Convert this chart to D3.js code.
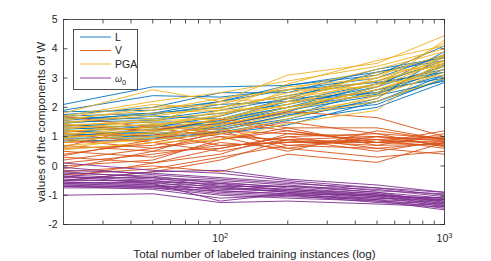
<!DOCTYPE html>
<html><head><meta charset="utf-8">
<script src="https://cdn.jsdelivr.net/npm/d3@7"></script>
<style>body{margin:0;background:#fff}svg{display:block;font-family:"Liberation Sans",Arial,sans-serif}</style>
</head><body><svg id="c" width="491" height="261"></svg>
<script>
const xValues = [20, 50, 100, 200, 500, 1000];
const seriesNames = ["L", "V", "PGA", "ω0"];
const seriesColors = ["#0072BD", "#D95319", "#EDB120", "#7E2F8E"];
const yTicks = [-2, -1, 0, 1, 2, 3, 4, 5];
const xMajorTicks = [100, 1000];
const xMinorTicks = [30, 40, 50, 60, 70, 80, 90, 200, 300, 400, 500, 600, 700, 800, 900];

const seriesL = [
 [2.10, 2.70, 2.70, 2.75, 3.20, 3.60],
 [1.90, 2.40, 2.35, 2.60, 3.00, 3.80],
 [1.85, 1.90, 2.20, 2.75, 3.10, 4.10],
 [1.70, 1.80, 2.00, 2.40, 2.90, 3.50],
 [1.65, 1.60, 1.90, 2.30, 3.20, 3.70],
 [1.60, 1.75, 2.10, 2.20, 2.80, 3.30],
 [1.50, 1.55, 1.80, 2.10, 2.70, 3.40],
 [1.45, 1.70, 1.60, 2.00, 2.60, 3.00],
 [1.40, 1.30, 1.70, 2.30, 2.50, 3.10],
 [1.35, 1.50, 1.50, 1.90, 2.40, 2.90],
 [1.30, 1.20, 1.55, 2.00, 2.80, 3.60],
 [1.25, 1.40, 1.40, 1.80, 2.20, 2.95],
 [1.20, 1.10, 1.30, 1.70, 2.60, 3.20],
 [1.15, 1.35, 1.25, 1.60, 2.30, 3.80],
 [1.10, 1.00, 1.20, 1.75, 2.10, 3.00],
 [1.00, 1.25, 1.45, 2.00, 2.45, 3.30],
 [0.95, 0.95, 1.15, 1.55, 2.00, 2.85],
 [0.90, 1.05, 1.35, 1.85, 2.70, 3.90],
 [0.85, 0.90, 1.10, 1.40, 2.20, 3.10],
 [1.75, 2.00, 2.50, 2.50, 3.30, 3.70],
 [1.55, 1.80, 2.20, 2.60, 2.85, 3.20],
 [1.05, 1.15, 1.60, 2.20, 2.50, 3.45]
];
const seriesV = [
 [1.70, 1.30, 1.00, 0.90, 0.80, 0.70],
 [1.40, 1.20, 1.60, 1.30, 1.30, 0.90],
 [1.20, 1.00, 1.40, 1.85, 1.65, 1.00],
 [1.10, 0.80, 1.20, 1.10, 1.00, 0.85],
 [1.00, 1.10, 0.70, 0.80, 0.90, 0.75],
 [0.90, 0.60, 0.90, 1.20, 0.80, 0.95],
 [0.80, 0.90, 1.30, 0.70, 0.60, 0.80],
 [0.70, 0.50, 0.60, 1.00, 1.10, 0.65],
 [0.60, 0.70, 1.10, 0.85, 0.70, 1.10],
 [0.50, 0.30, 0.80, 0.60, 1.00, 0.70],
 [0.40, 0.80, 0.50, 0.90, 0.50, 0.85],
 [0.30, 0.10, 0.40, 1.10, 0.90, 0.60],
 [0.20, 0.60, 1.00, 0.50, 1.20, 0.90],
 [0.10, 0.40, 0.70, 0.80, 0.80, 1.20],
 [0.00, 0.20, 0.90, 1.30, 0.70, 0.75],
 [-0.10, 0.50, 1.20, 0.60, 0.30, 0.50],
 [-0.20, 0.00, -0.20, 0.40, 0.12, 0.80],
 [-0.30, -0.10, 0.30, 0.70, 0.90, 1.00],
 [-0.40, 0.10, 0.60, 1.00, 0.60, 0.40],
 [-0.50, -0.20, 0.20, 0.90, 1.00, 0.90],
 [0.65, 1.40, 1.10, 1.50, 1.10, 0.95],
 [0.35, 0.90, 1.50, 1.20, 0.80, 0.85]
];
const seriesPGA = [
 [1.80, 2.60, 2.20, 3.10, 3.50, 4.45],
 [1.70, 2.20, 2.50, 2.90, 3.40, 4.00],
 [1.60, 1.90, 2.30, 2.60, 3.30, 3.90],
 [1.55, 2.00, 2.10, 2.70, 3.00, 3.60],
 [1.50, 1.70, 2.00, 2.40, 3.10, 3.80],
 [1.45, 1.80, 1.90, 2.50, 2.90, 3.50],
 [1.40, 1.50, 2.20, 2.30, 2.80, 3.70],
 [1.35, 1.60, 1.80, 2.20, 3.20, 3.40],
 [1.30, 1.40, 1.70, 2.60, 2.70, 3.60],
 [1.25, 1.55, 1.60, 2.10, 3.00, 4.20],
 [1.20, 1.30, 1.90, 2.00, 2.60, 3.30],
 [1.15, 1.45, 1.50, 2.35, 2.90, 3.75],
 [1.10, 1.20, 1.40, 1.90, 2.50, 3.50],
 [1.05, 1.35, 1.75, 2.20, 2.40, 3.20],
 [1.00, 1.10, 1.30, 1.80, 2.30, 3.60],
 [0.95, 1.25, 1.60, 2.10, 2.80, 3.10],
 [0.90, 1.00, 1.20, 1.70, 2.20, 3.00],
 [0.80, 1.15, 1.50, 2.00, 2.60, 3.40],
 [0.70, 0.90, 1.10, 1.60, 2.40, 3.80],
 [0.60, 1.00, 1.40, 1.90, 2.70, 4.30],
 [0.55, 0.80, 0.90, 1.45, 1.90, 3.55],
 [1.65, 2.10, 1.95, 2.80, 3.60, 4.10]
];
const seriesW0 = [
 [0.10, -0.15, -0.25, -0.50, -0.75, -1.00],
 [-0.05, -0.30, -0.45, -0.60, -0.75, -0.90],
 [-0.15, -0.25, -0.40, -0.55, -0.85, -0.95],
 [-0.20, -0.40, -0.50, -0.65, -0.90, -1.10],
 [-0.25, -0.35, -0.60, -0.70, -0.80, -1.05],
 [-0.30, -0.45, -0.55, -0.75, -0.95, -1.20],
 [-0.35, -0.50, -0.65, -0.80, -1.00, -1.15],
 [-0.40, -0.40, -0.70, -0.70, -0.90, -1.25],
 [-0.45, -0.55, -0.60, -0.85, -1.05, -1.10],
 [-0.50, -0.50, -0.75, -0.80, -0.95, -1.30],
 [-0.55, -0.60, -0.70, -0.90, -1.10, -1.20],
 [-0.55, -0.65, -0.80, -0.85, -1.00, -1.35],
 [-0.60, -0.55, -0.85, -0.95, -1.15, -1.25],
 [-0.60, -0.70, -0.75, -0.90, -1.05, -1.40],
 [-0.65, -0.65, -0.90, -1.00, -1.10, -1.15],
 [-0.65, -0.75, -0.85, -0.95, -1.20, -1.30],
 [-0.70, -0.70, -0.95, -1.05, -1.15, -1.45],
 [-0.70, -0.80, -1.10, -1.00, -1.25, -1.35],
 [-0.75, -0.75, -1.00, -1.10, -1.20, -1.50],
 [-1.00, -0.95, -1.25, -1.20, -1.30, -1.40],
 [-0.50, -0.20, -0.15, -0.45, -0.65, -0.90],
 [-0.35, -0.60, -1.20, -0.95, -1.00, -1.10]
];
const allSeries = [seriesL, seriesV, seriesPGA, seriesW0];

const svg = d3.select("#c");
const m = {l: 63.5, r: 444.5, t: 19.5, b: 224.5};
const x = d3.scaleLog().domain([20, 1000]).range([m.l, m.r]);
const y = d3.scaleLinear().domain([-2, 5]).range([m.b, m.t]);
const axisColor = "#262626";

svg.append("defs").append("clipPath").attr("id","clp")
  .append("rect").attr("x", m.l).attr("y", m.t).attr("width", m.r-m.l).attr("height", m.b-m.t);

const line = d3.line().x((d,i)=>x(xValues[i])).y(d=>y(d));
const plot = svg.append("g").attr("clip-path","url(#clp)");
allSeries.forEach((s, si) => {
  plot.append("g").selectAll("path").data(s).join("path")
    .attr("d", line).attr("fill","none")
    .attr("stroke", seriesColors[si]).attr("stroke-width", 0.9);
});

const tl = 4;
const ax = svg.append("g").attr("stroke", axisColor).attr("stroke-width", 0.8).attr("fill","none");
ax.append("rect").attr("x", m.l).attr("y", m.t).attr("width", m.r-m.l).attr("height", m.b-m.t);
yTicks.forEach(t => {
  ax.append("line").attr("x1", m.l).attr("x2", m.l+tl).attr("y1", y(t)).attr("y2", y(t));
  ax.append("line").attr("x1", m.r).attr("x2", m.r-tl).attr("y1", y(t)).attr("y2", y(t));
});
xMajorTicks.concat(xMinorTicks).forEach(t => {
  ax.append("line").attr("x1", x(t)).attr("x2", x(t)).attr("y1", m.b).attr("y2", m.b-tl);
  ax.append("line").attr("x1", x(t)).attr("x2", x(t)).attr("y1", m.t).attr("y2", m.t+tl);
});

const txt = svg.append("g").attr("fill", axisColor).attr("font-size", 10.5);
yTicks.forEach(t => {
  txt.append("text").attr("x", m.l-6).attr("y", y(t)+3.7).attr("text-anchor","end").text(t);
});
xMajorTicks.forEach(t => {
  const g = txt.append("text").attr("x", x(t)).attr("y", 242).attr("text-anchor","middle");
  g.append("tspan").text("10");
  g.append("tspan").attr("dy", -4).attr("font-size", 7.5).text(String(Math.log10(t)));
});
txt.append("text").attr("x", (m.l+m.r)/2 + 0.5).attr("y", 257.5).attr("text-anchor","middle")
  .attr("font-size", 11.7).text("Total number of labeled training instances (log)");
txt.append("text").attr("transform", `translate(45,${(m.t+m.b)/2}) rotate(-90)`)
  .attr("text-anchor","middle").attr("font-size", 11.7).text("values of the components of W");

const lg = svg.append("g");
lg.append("rect").attr("x", 73.5).attr("y", 29.5).attr("width", 64).attr("height", 60)
  .attr("fill","#fff").attr("stroke", axisColor).attr("stroke-width", 0.8);
const rows = [37, 50.5, 64, 78];
seriesNames.forEach((n, i) => {
  lg.append("line").attr("x1", 80).attr("x2", 111).attr("y1", rows[i]).attr("y2", rows[i])
    .attr("stroke", seriesColors[i]).attr("stroke-width", 0.9);
  const t = lg.append("text").attr("x", 115).attr("y", rows[i]+3.7).attr("font-size", 10.5).attr("fill", axisColor);
  if (n === "ω0") {
    t.append("tspan").attr("font-style","italic").attr("font-size", 9).text("ω");
    t.append("tspan").attr("dy", 3).attr("font-size", 7.5).text("0");
  } else t.text(n);
});
</script></body></html>
